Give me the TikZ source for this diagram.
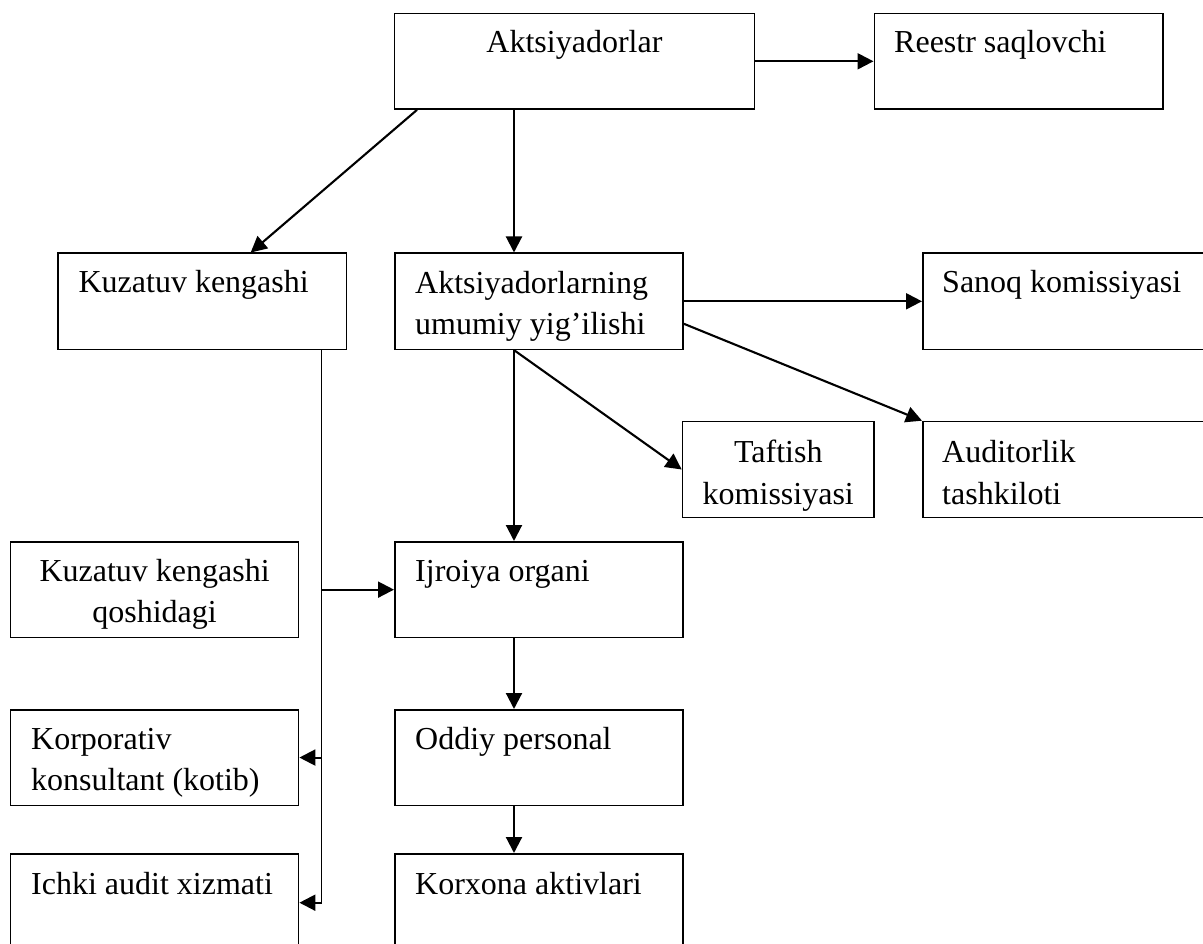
\documentclass[tikz,border=0pt]{standalone}
\usepackage{fontspec}
\setmainfont{Liberation Serif}
\usetikzlibrary{arrows.meta,calc}
\tikzset{
  bx/.style={draw, line width=1.6pt, inner sep=0pt, anchor=north west},
  tx/.style={inner sep=0pt, font=\fontsize{32}{41.3}\selectfont},
  arr/.style={line width=2.1pt, -{Triangle[length=16pt,width=16pt]}},
  bus/.style={line width=1.5pt},
}
\begin{document}
\begin{tikzpicture}[x=1pt,y=-1pt]
\useasboundingbox (0,0) rectangle (1203,944);
\fill[white] (0,0) rectangle (1203,944);
\clip (0,0) rectangle (1203,944);

% boxes
\node[bx, minimum width=360.3pt, minimum height=95.6pt] (ak)  at (393.5,12.7) {};
\node[bx, minimum width=288.5pt, minimum height=95.6pt] (re)  at (873.5,12.7) {};
\node[bx, minimum width=288.3pt, minimum height=96pt]   (kk)  at (57.4,252.5) {};
\node[bx, minimum width=288.3pt, minimum height=96pt]   (um)  at (394,252.5) {};
\node[bx, minimum width=300pt,   minimum height=96pt]   (sa)  at (922,252.5) {};
\node[bx, minimum width=191.6pt, minimum height=96pt]   (taf) at (681.7,420.7) {};
\node[bx, minimum width=300pt,   minimum height=96pt]   (aud) at (922,420.7) {};
\node[bx, minimum width=288pt,   minimum height=95.7pt] (kq)  at (9.8,541) {};
\node[bx, minimum width=288.3pt, minimum height=95.7pt] (ij)  at (394,541) {};
\node[bx, minimum width=288pt,   minimum height=95.5pt] (ko)  at (9.8,709) {};
\node[bx, minimum width=288.3pt, minimum height=95.5pt] (od)  at (394,709) {};
\node[bx, minimum width=288pt,   minimum height=120pt]  (ich) at (9.8,853) {};
\node[bx, minimum width=288.3pt, minimum height=120pt]  (kx)  at (394,853) {};

% texts
\node[tx, anchor=base] (akt) at ([yshift=-39.8pt]ak.north) {Aktsiyadorlar};
\node[tx, anchor=base west] (ret) at ([xshift=20.5pt,yshift=-39.8pt]re.north west) {Reestr saqlovchi};
\node[tx, anchor=base west] (kkt) at ([xshift=21pt,yshift=-40pt]kk.north west) {Kuzatuv kengashi};
\begin{scope}
  \clip ([yshift=-9.5pt]um.south west) rectangle (um.north east);
  \node[tx, anchor=base west] (umt) at ([xshift=21pt,yshift=-40.6pt]um.north west)
    {\parbox[t]{260pt}{Aktsiyadorlarning\\umumiy yig’ilishi}};
\end{scope}
\node[tx, anchor=base west] (sat) at ([xshift=20pt,yshift=-40.5pt]sa.north west) {Sanoq komissiyasi};
\node[tx, anchor=base] (taft) at ([yshift=-42pt]taf.north)
    {\parbox[t]{190pt}{\centering Taftish\\komissiyasi}};
\node[tx, anchor=base west] (audt) at ([xshift=20pt,yshift=-42pt]aud.north west)
    {\parbox[t]{260pt}{Auditorlik\\tashkiloti}};
\begin{scope}
  \clip ([yshift=-10pt]kq.south west) rectangle (kq.north east);
  \node[tx, anchor=base] (kqt) at ([yshift=-40pt]kq.north)
    {\parbox[t]{286pt}{\centering Kuzatuv kengashi\\qoshidagi}};
\end{scope}
\node[tx, anchor=base west] (ijt) at ([xshift=21pt,yshift=-40pt]ij.north west) {Ijroiya organi};
\node[tx, anchor=base west] (kot) at ([xshift=21.2pt,yshift=-40.3pt]ko.north west)
    {\parbox[t]{270pt}{Korporativ\\konsultant (kotib)}};
\node[tx, anchor=base west] (odt) at ([xshift=21pt,yshift=-40.3pt]od.north west) {Oddiy personal};
\node[tx, anchor=base west] (icht) at ([xshift=21.2pt,yshift=-41.3pt]ich.north west) {Ichki audit xizmati};
\node[tx, anchor=base west] (kxt) at ([xshift=21pt,yshift=-41.3pt]kx.north west) {Korxona aktivlari};

% helper coordinates
\coordinate (c1) at ([xshift=120pt]um.north west);
\coordinate (c2) at ([xshift=120pt]um.south west);
\coordinate (kb) at ([xshift=264.3pt]kk.south west);
\coordinate (ichin) at ([yshift=-49.7pt]ich.north east);

% connectors
\draw[arr] (ak.east) -- (re.west);
\draw[arr] ([xshift=23.5pt]ak.south west) -- ([xshift=193.3pt]kk.north west);
\draw[arr] (ak.south -| c1) -- (c1);
\draw[arr] (um.east) -- (sa.west);
\draw[arr] ([yshift=-22.5pt]um.east) -- (aud.north west);
\draw[arr] (c2) -- (taf.west);
\draw[arr] (c2) -- (c2 |- ij.north);
\draw[arr] (ij.south -| c2) -- (od.north -| c2);
\draw[arr] (od.south -| c2) -- (kx.north -| c2);

\draw[bus] (kb) -- (kb |- ichin);
\draw[arr] (kb |- ij.west) -- (ij.west);
\draw[arr] (kb |- ko.east) -- (ko.east);
\draw[arr] (kb |- ichin) -- (ichin);
\end{tikzpicture}
\end{document}
